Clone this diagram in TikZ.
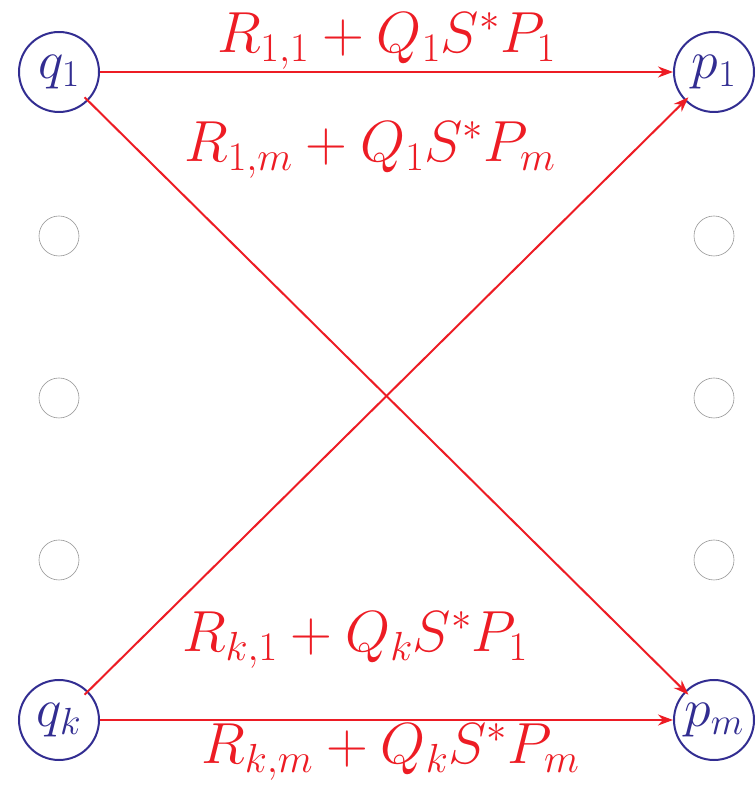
\documentclass[tikz,border=0pt]{standalone}
\usepackage{fix-cm}
\usepackage{tikz}
\usetikzlibrary{arrows.meta, positioning}
\usepackage{amsmath, amssymb}
\definecolor{stateblue}{RGB}{50, 45, 145}
\definecolor{edgered}{RGB}{237, 28, 36}
\definecolor{dotgray}{RGB}{150, 150, 150}

\begin{document}
\begin{tikzpicture}[x=1pt, y=1pt,
    statenode/.style={circle, draw=stateblue, line width=2pt, minimum size=80pt, inner sep=0pt, text=stateblue, font=\fontsize{54}{60}\selectfont},
    dotnode/.style={circle, draw=dotgray, line width=0.6pt, minimum size=40pt, inner sep=0pt},
    flow/.style={draw=edgered, line width=2pt, -{Stealth[length=15pt, width=11pt]}},
    weight/.style={text=edgered, inner sep=0pt, font=\fontsize{58}{66}\selectfont}]
  \useasboundingbox (0,0) rectangle (755,792);

  % end states
  \node[statenode] (q1) at (59,720) {$q_1$};
  \node[statenode] (qk) at (59,72) {$q_k$};
  \node[statenode] (p1) at (714,720) {$p_1$};
  \node[statenode] (pm) at (714,72) {$p_m$};

  % elided states
  \foreach \y [count=\i] in {556, 394, 232} {
    \node[dotnode] (ql\i) at (59,\y) {};
    \node[dotnode] (pr\i) at (714,\y) {};
  }

  % transitions
  \draw[flow] (q1) -- node[weight, above=2pt] {$R_{1,1} + Q_1 S^* P_1$} (p1);
  \draw[flow] (qk) -- node[weight, below=3pt, xshift=4pt] {$R_{k,m} + Q_k S^* P_m$} (pm);
  \draw[flow, shorten <=-5pt, shorten >=-5pt] (q1) -- (pm);
  \draw[flow, shorten <=-5pt, shorten >=-5pt] (qk) -- (p1);

  % diagonal weights
  \node[weight] (w1m) at (370,642) {$R_{1,m} + Q_1 S^* P_m$};
  \node[weight] (wk1) at (355,152) {$R_{k,1} + Q_k S^* P_1$};
\end{tikzpicture}
\end{document}
